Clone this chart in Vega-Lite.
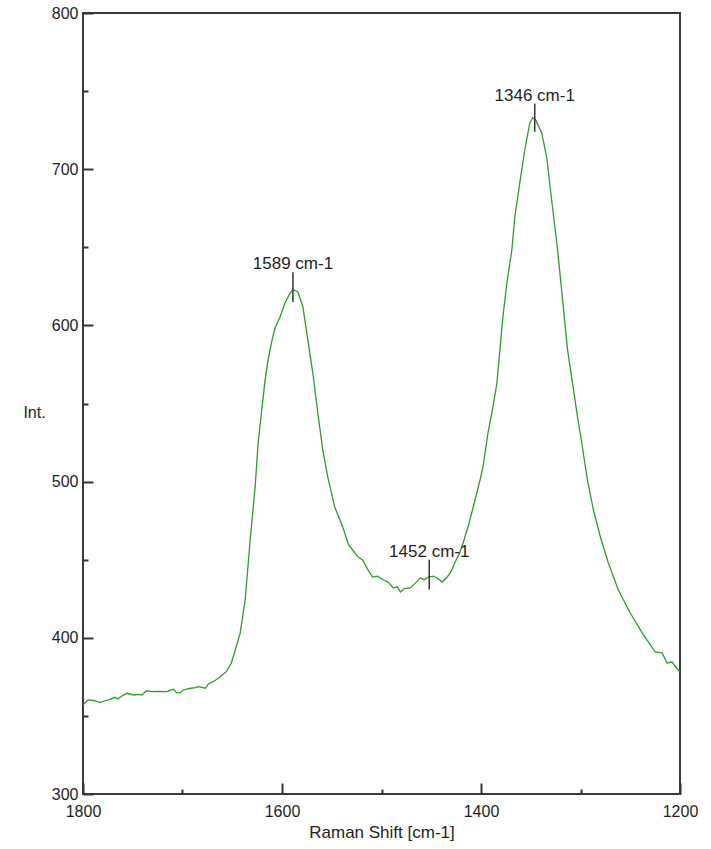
{
  "$schema": "https://vega.github.io/schema/vega-lite/v6.json",
  "width": 597,
  "height": 781,
  "autosize": {"type": "none"},
  "padding": {"left": 83, "top": 13, "right": 31, "bottom": 55},
  "background": "white",
  "config": {
    "view": {"stroke": "#3a3a3a", "strokeWidth": 2},
    "font": "Liberation Sans"
  },
  "datasets": {
    "spectrum": [
      {"shift": 1800, "int": 357.0}, {"shift": 1795, "int": 360.2}, {"shift": 1788, "int": 359.7},
      {"shift": 1783, "int": 358.5}, {"shift": 1778, "int": 359.7}, {"shift": 1773, "int": 360.6},
      {"shift": 1768, "int": 361.9}, {"shift": 1765, "int": 360.8}, {"shift": 1761, "int": 362.7},
      {"shift": 1756, "int": 364.5}, {"shift": 1749, "int": 363.4}, {"shift": 1744, "int": 363.8},
      {"shift": 1741, "int": 363.4}, {"shift": 1736, "int": 366.1}, {"shift": 1731, "int": 365.5},
      {"shift": 1726, "int": 365.7}, {"shift": 1716, "int": 365.5}, {"shift": 1709, "int": 367.0},
      {"shift": 1706, "int": 364.9}, {"shift": 1702, "int": 364.9}, {"shift": 1699, "int": 366.6},
      {"shift": 1692, "int": 367.7}, {"shift": 1687, "int": 368.1}, {"shift": 1684, "int": 368.7},
      {"shift": 1677, "int": 367.7}, {"shift": 1674, "int": 370.4}, {"shift": 1669, "int": 371.9},
      {"shift": 1662, "int": 375.1}, {"shift": 1656, "int": 378.3}, {"shift": 1651, "int": 383.7},
      {"shift": 1647, "int": 392.2}, {"shift": 1642, "int": 403.1}, {"shift": 1637, "int": 424.2},
      {"shift": 1632, "int": 462.6}, {"shift": 1627, "int": 496.5}, {"shift": 1624, "int": 524.7},
      {"shift": 1620, "int": 547.8}, {"shift": 1617, "int": 565.0}, {"shift": 1614, "int": 577.8},
      {"shift": 1610, "int": 590.6}, {"shift": 1607, "int": 598.3}, {"shift": 1602, "int": 605.4},
      {"shift": 1597, "int": 614.3}, {"shift": 1592, "int": 620.5}, {"shift": 1589, "int": 623.0},
      {"shift": 1584, "int": 621.4}, {"shift": 1579, "int": 611.8}, {"shift": 1574, "int": 590.6},
      {"shift": 1569, "int": 569.5}, {"shift": 1564, "int": 543.9}, {"shift": 1559, "int": 520.2},
      {"shift": 1554, "int": 502.9}, {"shift": 1547, "int": 483.7}, {"shift": 1539, "int": 470.9},
      {"shift": 1533, "int": 459.4}, {"shift": 1529, "int": 456.2}, {"shift": 1524, "int": 452.0},
      {"shift": 1519, "int": 449.8}, {"shift": 1514, "int": 444.0}, {"shift": 1509, "int": 438.9},
      {"shift": 1504, "int": 439.5}, {"shift": 1498, "int": 437.0}, {"shift": 1493, "int": 435.5},
      {"shift": 1488, "int": 431.9}, {"shift": 1484, "int": 432.6}, {"shift": 1481, "int": 429.3},
      {"shift": 1477, "int": 431.5}, {"shift": 1471, "int": 431.9}, {"shift": 1466, "int": 435.0},
      {"shift": 1461, "int": 438.3}, {"shift": 1457, "int": 437.2}, {"shift": 1453, "int": 438.9},
      {"shift": 1448, "int": 439.5}, {"shift": 1444, "int": 438.3}, {"shift": 1439, "int": 435.7},
      {"shift": 1434, "int": 438.9}, {"shift": 1430, "int": 442.5}, {"shift": 1426, "int": 448.5},
      {"shift": 1422, "int": 453.5}, {"shift": 1418, "int": 460.7}, {"shift": 1413, "int": 470.9},
      {"shift": 1406, "int": 488.2}, {"shift": 1401, "int": 501.0}, {"shift": 1398, "int": 509.3},
      {"shift": 1393, "int": 531.1}, {"shift": 1388, "int": 547.8}, {"shift": 1384, "int": 563.1},
      {"shift": 1381, "int": 584.2}, {"shift": 1378, "int": 605.4}, {"shift": 1374, "int": 627.1},
      {"shift": 1369, "int": 648.3}, {"shift": 1366, "int": 669.4}, {"shift": 1361, "int": 691.2},
      {"shift": 1356, "int": 712.3}, {"shift": 1351, "int": 729.5}, {"shift": 1348, "int": 733.0},
      {"shift": 1345, "int": 731.5}, {"shift": 1339, "int": 723.2}, {"shift": 1334, "int": 707.8},
      {"shift": 1329, "int": 680.3}, {"shift": 1323, "int": 648.3}, {"shift": 1318, "int": 616.3},
      {"shift": 1313, "int": 584.2}, {"shift": 1308, "int": 563.1}, {"shift": 1303, "int": 541.4},
      {"shift": 1300, "int": 530.0}, {"shift": 1293, "int": 501.0}, {"shift": 1287, "int": 481.8},
      {"shift": 1280, "int": 464.5}, {"shift": 1272, "int": 447.9}, {"shift": 1262, "int": 430.6},
      {"shift": 1250, "int": 415.9}, {"shift": 1238, "int": 403.1}, {"shift": 1225, "int": 390.9},
      {"shift": 1218, "int": 390.3}, {"shift": 1213, "int": 383.9}, {"shift": 1208, "int": 384.5},
      {"shift": 1202, "int": 379.4}, {"shift": 1200, "int": 378.1}
    ],
    "peaks": [
      {"shift": 1589, "int": 615, "int2": 634, "label": "1589 cm-1"},
      {"shift": 1452, "int": 431, "int2": 450, "label": "1452 cm-1"},
      {"shift": 1346, "int": 724, "int2": 742, "label": "1346 cm-1"}
    ]
  },
  "layer": [
    {
      "data": {"name": "spectrum"},
      "mark": {"type": "line", "color": "#2a9d2a", "strokeWidth": 1.3, "clip": true},
      "encoding": {
        "x": {
          "field": "shift", "type": "quantitative",
          "scale": {"domain": [1200, 1800], "reverse": true, "nice": false, "zero": false},
          "axis": {
            "title": "Raman Shift [cm-1]",
            "values": [1200, 1300, 1400, 1500, 1600, 1700, 1800],
            "labelExpr": "datum.value % 200 === 0 ? datum.value : ''",
            "labelFlush": false,
            "labelOverlap": false,
            "domain": false,
            "grid": false,
            "tickColor": "#333333",
            "tickWidth": 2,
            "tickSize": {"condition": {"test": "datum.value % 200 === 0", "value": -11}, "value": -5},
            "labelPadding": 20,
            "labelFontSize": 16,
            "labelColor": "#1e1e1e",
            "titleFontSize": 17,
            "titleFontWeight": "normal",
            "titleColor": "#1e1e1e",
            "titleY": 38,
            "titleBaseline": "middle"
          }
        },
        "y": {
          "field": "int", "type": "quantitative",
          "scale": {"domain": [300, 800], "nice": false, "zero": false},
          "axis": {
            "title": "Int.",
            "values": [300, 350, 400, 450, 500, 550, 600, 650, 700, 750, 800],
            "labelExpr": "datum.value % 100 === 0 ? datum.value : ''",
            "labelOverlap": false,
            "labelFlush": false,
            "domain": false,
            "grid": false,
            "tickColor": "#333333",
            "tickWidth": 2,
            "tickSize": {"condition": {"test": "datum.value % 100 === 0", "value": -10}, "value": -5},
            "labelPadding": 15,
            "labelFontSize": 16,
            "labelColor": "#1e1e1e",
            "titleFontSize": 16,
            "titleFontWeight": "normal",
            "titleColor": "#1e1e1e",
            "titleAngle": 0,
            "titleAlign": "center",
            "titleBaseline": "middle",
            "titleX": -49,
            "titleY": 399
          }
        }
      }
    },
    {
      "data": {"name": "peaks"},
      "mark": {"type": "rule", "color": "#333333", "strokeWidth": 1.5},
      "encoding": {
        "x": {"field": "shift", "type": "quantitative"},
        "y": {"field": "int", "type": "quantitative"},
        "y2": {"field": "int2"}
      }
    },
    {
      "data": {"name": "peaks"},
      "mark": {"type": "text", "fontSize": 17, "color": "#1e1e1e", "align": "center", "baseline": "alphabetic", "dy": -3},
      "encoding": {
        "x": {"field": "shift", "type": "quantitative"},
        "y": {"field": "int2", "type": "quantitative"},
        "text": {"field": "label"}
      }
    }
  ]
}
